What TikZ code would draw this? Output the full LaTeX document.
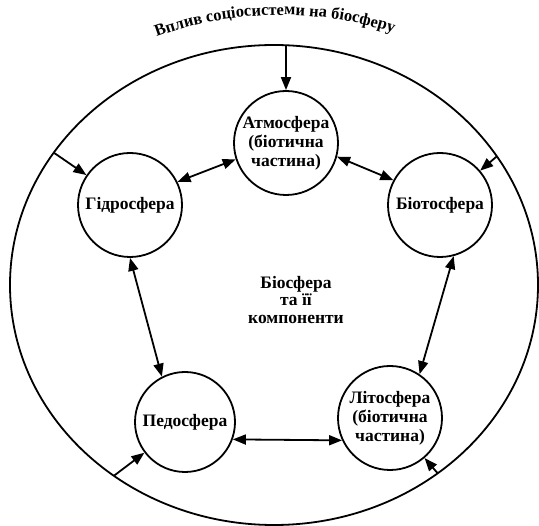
\documentclass[tikz,border=0pt]{standalone}
\usepackage{fontspec}
\setmainfont{Liberation Serif}[BoldFont={Liberation Serif Bold}]
\usetikzlibrary{arrows.meta,decorations.text,shapes.geometric}
\begin{document}
\begin{tikzpicture}[x=1pt,y=1pt,
  comp/.style={circle,draw,line width=1.8pt,minimum size=104pt,inner sep=0pt,align=center,font=\bfseries\fontsize{17.5}{19}\selectfont},
  link/.style={line width=1.8pt,{Triangle[length=13pt,width=10pt]}-{Triangle[length=13pt,width=10pt]}},
  infl/.style={line width=1.8pt,-{Triangle[length=13pt,width=10pt]}}]
\useasboundingbox (0,0) rectangle (539,-526);
\node[ellipse,draw,line width=1.8pt,minimum width=528pt,minimum height=480pt,inner sep=0pt,outer sep=0pt] (outer) at (274,-285) {};
\node[comp] (atm) at (286,-143) {Атмосфера\\(біотична\\частина)};
\node[comp] (hyd) at (130,-205) {Гідросфера};
\node[comp] (bio) at (440,-205) {Біотосфера};
\node[comp,minimum size=100pt] (ped) at (185,-422) {Педосфера};
\node[comp] (lit) at (390,-418) {Літосфера\\(біотична\\частина)};
\node[font=\bfseries\fontsize{17.5}{17.5}\selectfont,align=center] (mid) at (296,-300) {Біосфера\\та її\\компоненти};
\draw[infl] (atm.north |- outer.north) -- (atm.north);
\draw[infl] (outer.149) -- (hyd);
\draw[infl] (outer.30) -- (bio);
\draw[infl] (outer.230) -- (ped);
\draw[infl] (outer.311) -- (lit);
\draw[link] (hyd.26) -- (atm.198);
\draw[link] (atm.345) -- (bio.152);
\draw[link] (hyd.270) -- (ped.117);
\draw[link] (bio.285) -- (lit.56);
\draw[link] (ped.-20) -- (lit.205);
\path[decorate,decoration={text along path,text align=center,text={|\bfseries\fontsize{16.5}{16.5}\selectfont|Вплив соціосистеми на біосферу}}] (281,-377) ++(118:362) arc[start angle=118,end angle=64,radius=362];
\end{tikzpicture}
\end{document}
